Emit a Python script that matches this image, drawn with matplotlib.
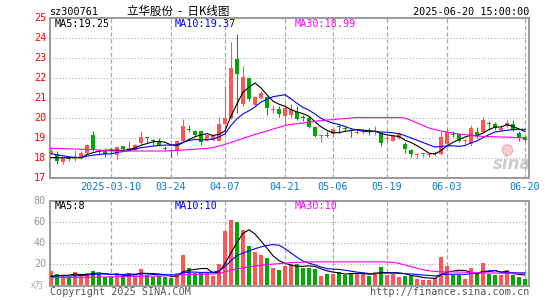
import matplotlib
matplotlib.use('Agg')
import matplotlib.pyplot as plt
from matplotlib.patches import Ellipse
import numpy as np

# ---------------- data ----------------
opens = [18.25, 18.2, 17.78, 18.05, 17.97, 18.0, 18.25, 19.15, 18.35, 18.37,
         18.4, 18.17, 18.58, 18.4, 18.42, 18.75, 19.05, 18.9, 18.8, 18.47,
         18.38, 18.37, 18.87, 19.42, 19.37, 19.37, 18.87, 18.9, 18.87, 19.7,
         20.0, 22.95, 20.7, 22.0, 20.65, 21.0, 21.05, 20.42, 20.45, 20.12,
         20.17, 20.28, 20.07, 20.0, 19.57, 19.12, 19.17, 19.2, 19.58, 19.5,
         19.4, 19.27, 19.28, 19.4, 19.3, 19.27, 18.95, 18.87, 19.02, 18.68,
         18.38, 18.15, 18.18, 18.15, 18.18, 18.22, 18.7, 19.18, 19.2, 18.85,
         18.72, 19.3, 19.3, 19.72, 19.72, 19.42, 19.6, 19.72, 19.25, 19.03]
closes = [18.35, 17.85, 17.98, 17.95, 18.03, 18.25, 18.65, 18.45, 18.32, 18.22,
          18.37, 18.57, 18.43, 18.5, 18.65, 19.03, 19.0, 18.87, 18.6, 18.45,
          18.33, 18.83, 19.62, 19.4, 19.13, 18.8, 19.13, 19.15, 19.7, 20.0,
          22.5, 22.2, 22.05, 20.95, 21.05, 21.25, 20.5, 20.47, 20.18, 20.5,
          20.43, 19.95, 20.02, 19.55, 19.12, 19.15, 19.08, 19.43, 19.55, 19.45,
          19.35, 19.32, 19.32, 19.36, 19.35, 18.77, 18.99, 19.1, 19.18, 18.43,
          18.18, 18.19, 18.22, 18.18, 18.23, 19.05, 19.32, 19.15, 18.85, 18.88,
          19.5, 19.15, 19.88, 19.7, 19.5, 19.52, 19.75, 19.42, 19.05, 18.88]
highs = [18.55, 18.33, 18.0, 18.12, 18.4, 18.37, 18.72, 19.37, 18.42, 18.48,
         18.5, 18.58, 18.6, 18.83, 18.68, 19.33, 19.07, 18.97, 19.0, 18.58,
         18.42, 18.92, 19.97, 19.67, 19.38, 19.4, 19.15, 19.2, 20.03, 21.6,
         23.8, 24.2, 22.6, 22.02, 21.1, 21.35, 21.1, 20.65, 20.62, 20.72,
         20.7, 20.6, 20.17, 20.08, 19.6, 19.2, 19.33, 19.47, 19.63, 19.58,
         19.5, 19.4, 19.42, 19.5, 19.58, 19.3, 19.13, 19.13, 19.3, 18.78,
         18.47, 18.25, 18.3, 18.25, 18.33, 19.35, 19.5, 19.33, 19.22, 18.97,
         19.65, 19.53, 20.05, 19.85, 19.8, 19.65, 19.92, 19.88, 19.37, 19.12]
lows = [18.2, 17.68, 17.7, 17.85, 17.83, 17.97, 18.18, 18.33, 18.2, 18.05,
        18.27, 17.97, 18.4, 18.37, 18.4, 18.7, 18.77, 18.67, 18.58, 18.37,
        18.03, 18.13, 18.83, 19.3, 19.1, 18.63, 18.85, 18.85, 18.85, 19.25,
        19.95, 20.25, 20.6, 20.85, 20.6, 20.95, 20.15, 20.25, 20.05, 19.63,
        20.0, 19.9, 19.83, 19.5, 19.03, 18.8, 19.03, 19.08, 19.25, 19.33,
        19.03, 19.2, 19.2, 19.13, 19.17, 18.6, 18.8, 18.85, 18.97, 18.25,
        18.03, 18.0, 18.05, 18.03, 18.08, 18.15, 18.62, 19.03, 18.8, 18.72,
        18.62, 19.0, 19.25, 19.42, 19.42, 19.37, 19.55, 19.35, 18.87, 18.83]
volumes = [13.3, 10.5, 8.9, 7.3, 12.4, 10.2, 11.1, 13.3, 10.5, 7.9,
           7.9, 11.1, 8.6, 11.1, 10.5, 14.9, 9.8, 7.9, 8.9, 7.3,
           7.0, 11.1, 28.6, 16.2, 11.1, 11.1, 11.1, 8.6, 20.0, 51.4,
           61.9, 60.0, 52.4, 37.1, 31.4, 28.6, 25.7, 16.3, 14.3, 18.1,
           20.0, 20.0, 16.5, 16.5, 15.2, 8.6, 10.5, 10.5, 12.4, 9.8,
           11.1, 11.1, 10.5, 8.6, 12.4, 17.1, 9.8, 10.8, 7.6, 8.6,
           8.3, 6.0, 5.1, 5.1, 6.4, 26.7, 18.1, 9.8, 9.2, 5.7,
           16.2, 10.5, 21.0, 10.8, 9.5, 9.5, 14.3, 9.8, 7.6, 6.0]
# closes / volumes of the days just before the window (estimated from the MA lines at the left edge)
pre_close = [18.5, 18.4, 18.5, 18.3, 18.4, 17.9, 17.95, 18.0, 17.9]
pre_vol = [9.5, 9.0, 9.5, 9.0, 9.5, 6.5, 6.5, 6.8, 6.4]
# 30-day averages as drawn (their history lies outside the window)
ma30_price = [18.48, 18.48, 18.47, 18.46, 18.45, 18.44, 18.43, 18.42, 18.40, 18.37,
              18.35, 18.35, 18.35, 18.35, 18.35, 18.35, 18.35, 18.35, 18.35, 18.35,
              18.36, 18.38, 18.40, 18.42, 18.44, 18.46, 18.48, 18.52, 18.60, 18.68,
              18.78, 18.88, 18.98, 19.08, 19.18, 19.27, 19.35, 19.45, 19.53, 19.62,
              19.68, 19.72, 19.75, 19.80, 19.84, 19.87, 19.90, 19.92, 19.95, 19.97,
              20.00, 20.02, 20.02, 20.02, 20.02, 20.02, 20.02, 20.02, 20.02, 20.00,
              19.88, 19.75, 19.62, 19.50, 19.42, 19.35, 19.30, 19.25, 19.20, 19.17,
              19.13, 19.10, 19.08, 19.07, 19.06, 19.05, 19.04, 19.03, 19.02, 19.00]
ma30_vol = [7.0, 7.0, 7.0, 7.0, 7.0, 7.2, 7.3, 7.4, 7.5, 7.6,
            7.7, 7.8, 7.9, 8.0, 8.1, 8.2, 8.3, 8.4, 8.5, 8.6,
            9.0, 9.5, 9.8, 10.0, 10.1, 10.2, 10.3, 10.5, 11.0, 12.5,
            14.0, 15.2, 16.3, 17.2, 18.0, 18.8, 19.4, 19.9, 20.3, 20.8,
            21.2, 21.5, 21.7, 21.9, 22.0, 22.0, 22.0, 22.0, 22.0, 22.0,
            22.0, 22.0, 22.0, 22.0, 22.0, 22.0, 21.8, 21.5, 20.5, 19.0,
            17.5, 16.0, 14.5, 13.5, 12.8, 12.6, 12.5, 12.4, 12.3, 12.2,
            11.8, 11.6, 11.5, 11.4, 11.3, 11.2, 11.2, 11.1, 11.0, 11.0]
tick_idx = [10, 20, 29, 39, 47, 56, 66, 79]
tick_labels = ['2025-03-10', '03-24', '04-07', '04-21', '05-06', '05-19', '06-03', '06-20']
price_ticks = [17, 18, 19, 20, 21, 22, 23, 24, 25]
vol_ticks = [20, 40, 60, 80]

# ---------------- figure ----------------
W, H = 545, 300
fig = plt.figure(figsize=(W / 100, H / 100), dpi=100)
fig.patch.set_facecolor('white')


def rect(l, t, r, b):
    return [l / W, 1 - b / H, (r - l) / W, (b - t) / H]


def ftxt(x, y, s, **kw):
    fig.text(x / W, 1 - y / H, s, **kw)


RED = '#ff5555'
GREEN = '#00a800'
GRID = '#aaaaaa'
FRAME = '#9a9a9a'
MONO = 'DejaVu Sans Mono'

ax = fig.add_axes(rect(50, 18, 529, 178))
axv = fig.add_axes(rect(50, 201, 529, 286))

n = len(closes)
x = np.arange(n)
o = np.array(opens)
c = np.array(closes)
h = np.array(highs)
lo = np.array(lows)
v = np.array(volumes)
colors = [RED if c[i] >= o[i] else GREEN for i in range(n)]

full_c = np.array(pre_close + closes)
full_v = np.array(pre_vol + volumes)
ma5 = np.convolve(full_c, np.ones(5) / 5, 'valid')[-n:]
ma10 = np.convolve(full_c, np.ones(10) / 10, 'valid')[-n:]
vma5 = np.convolve(full_v, np.ones(5) / 5, 'valid')[-n:]
vma10 = np.convolve(full_v, np.ones(10) / 10, 'valid')[-n:]

xl = (-1 / 6, n - 1 + 4 / 6)
for a in (ax, axv):
    a.set_xlim(*xl)
    a.set_xticks([])
    a.set_yticks([])
    for s in a.spines.values():
        s.set_color(FRAME)
        s.set_linewidth(1.4)
    for t in tick_idx:
        a.axvline(t, color=GRID, lw=0.9, ls=(0, (3.4, 2.0)), zorder=1)

ax.set_ylim(17, 25)
axv.set_ylim(-1.0, 80)

for p in price_ticks[1:-1]:
    ax.axhline(p, color=GRID, lw=0.75, ls=(0, (1, 2)), zorder=1)
for p in vol_ticks[:-1]:
    axv.axhline(p, color=GRID, lw=0.75, ls=(0, (1, 2)), zorder=1)

# sina watermark (behind the marks)
ax.text(0.965, 0.085, 'sina', transform=ax.transAxes, ha='center', va='center',
        color='#cccccc', fontsize=12, fontweight='bold', style='italic',
        family='DejaVu Sans', zorder=0)
ax.add_patch(Ellipse((0.955, 0.175), 0.022, 0.066, transform=ax.transAxes,
                     facecolor='#f6d0d0', edgecolor='#eeb0b0', lw=0.8, zorder=0))

# candles
ax.vlines(x, lo, h, colors=colors, lw=0.8, zorder=3)
body_h = np.maximum(np.abs(c - o), 0.05)
ax.bar(x, body_h, bottom=np.minimum(o, c), width=0.72, color=colors, lw=0, zorder=4)

ax.plot(x, ma5, color='black', lw=0.8, zorder=5)
ax.plot(x, ma10, color='#0000ff', lw=0.8, zorder=5)
ax.plot(x, ma30_price, color='#ff00ff', lw=0.8, zorder=5)

# volume
axv.bar(x, v, width=0.78, color=colors, lw=0, zorder=3)
axv.plot(x, vma5, color='black', lw=0.8, zorder=5)
axv.plot(x, vma10, color='#0000ff', lw=0.8, zorder=5)
axv.plot(x, ma30_vol, color='#ff00ff', lw=0.8, zorder=5)

# tick labels
fs = 7.3
for p in price_ticks:
    yy = 18 + (25 - p) * 20
    ftxt(46, yy, str(p), ha='right', va='center', color='#ff0000', fontsize=fs, family=MONO)
for p in vol_ticks:
    yy = 285 - p * 84 / 80
    ftxt(46, yy, str(p), ha='right', va='center', color='#999999', fontsize=fs, family=MONO)
ftxt(44, 286, 'x万', ha='right', va='center', color='#aaaaaa', fontsize=6.5,
     family=['Noto Sans CJK SC', 'DejaVu Sans'])

for t, lab in zip(tick_idx, tick_labels):
    px = 50 + (t - xl[0]) * 6
    ftxt(px, 187, lab, ha='center', va='center', color='#0a7ad4', fontsize=fs, family=MONO)

# header
ftxt(50, 12, 'sz300761', ha='left', va='center', color='black', fontsize=fs, family=MONO)
ftxt(178, 11, '立华股份  -  日K线图', ha='center', va='center', color='black', fontsize=8.3,
     family=['Noto Sans CJK SC', 'DejaVu Sans'])
ftxt(529, 12, '2025-06-20 15:00:00', ha='right', va='center', color='black', fontsize=fs, family=MONO)

ftxt(55, 24, 'MA5:19.25', ha='left', va='center', color='black', fontsize=fs, family=MONO)
ftxt(175, 24, 'MA10:19.37', ha='left', va='center', color='#0000ff', fontsize=fs, family=MONO)
ftxt(295, 24, 'MA30:18.99', ha='left', va='center', color='#ff00ff', fontsize=fs, family=MONO)

ftxt(55, 206, 'MA5:8', ha='left', va='center', color='black', fontsize=fs, family=MONO)
ftxt(175, 206, 'MA10:10', ha='left', va='center', color='#0000ff', fontsize=fs, family=MONO)
ftxt(295, 206, 'MA30:10', ha='left', va='center', color='#ff00ff', fontsize=fs, family=MONO)

ftxt(50, 292, 'Copyright 2025 SINA.COM', ha='left', va='center', color='#555555', fontsize=fs, family=MONO)
ftxt(529, 292, 'http://finance.sina.com.cn', ha='right', va='center', color='#555555', fontsize=fs, family=MONO)

fig.savefig('out.png', dpi=100, facecolor='white')
